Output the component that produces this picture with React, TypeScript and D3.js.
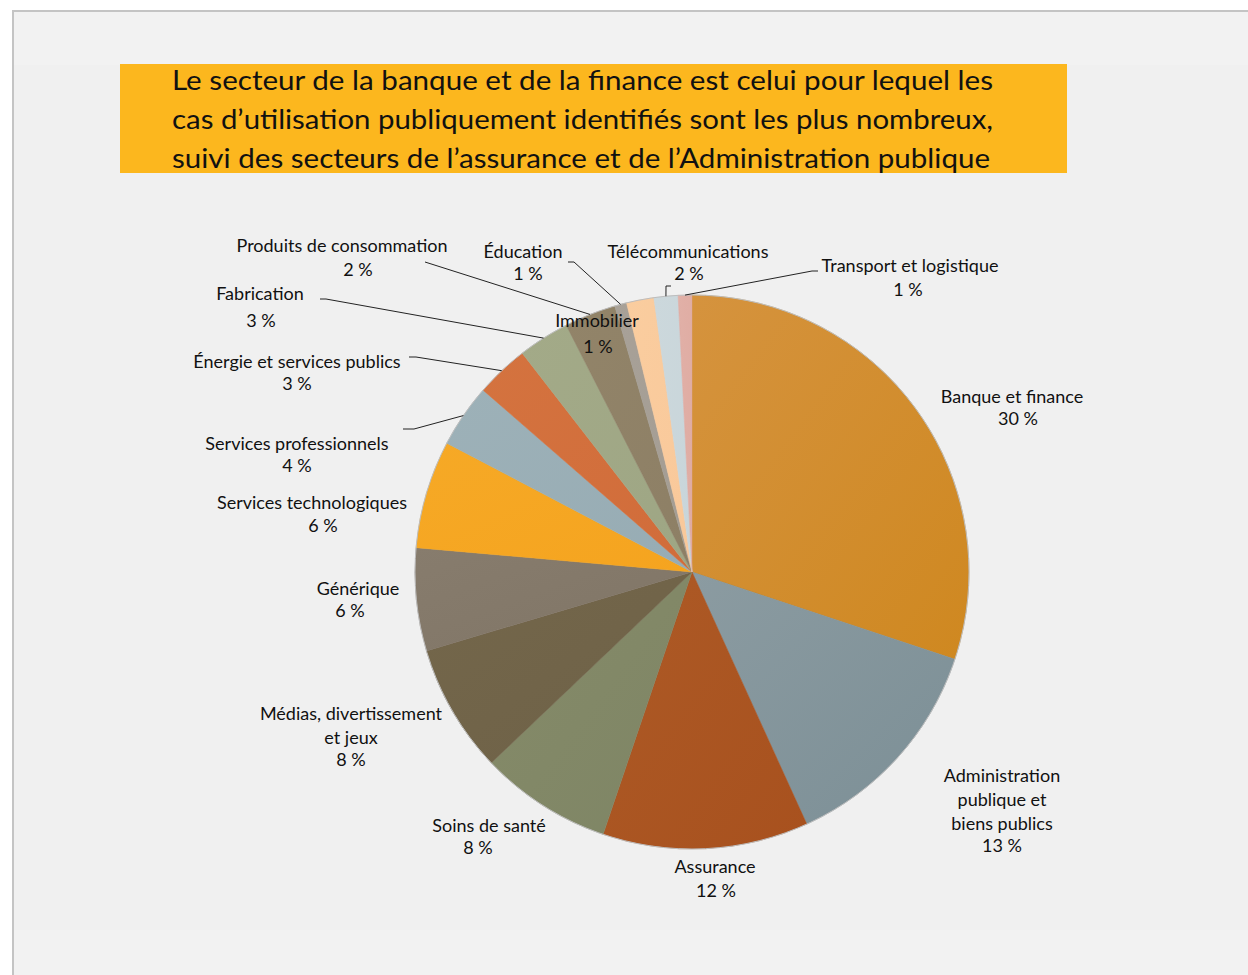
import React from "react";
import * as d3 from "d3";

// ---- Data ----
const categories = [
  "Banque et finance",
  "Administration publique et biens publics",
  "Assurance",
  "Soins de santé",
  "Médias, divertissement et jeux",
  "Générique",
  "Services technologiques",
  "Services professionnels",
  "Énergie et services publics",
  "Fabrication",
  "Produits de consommation",
  "Éducation",
  "Immobilier",
  "Télécommunications",
  "Transport et logistique",
];
const values = [30.1, 13.1, 12.0, 7.7, 7.5, 6.0, 6.3, 3.7, 3.1, 3.0, 3.0, 0.7, 1.6, 1.4, 0.8];
const percentLabels = ["30 %", "13 %", "12 %", "8 %", "8 %", "6 %", "6 %", "4 %", "3 %", "3 %", "2 %", "1 %", "1 %", "2 %", "1 %"];
const labelLines = [
  ["Banque et finance"],
  ["Administration", "publique et", "biens publics"],
  ["Assurance"],
  ["Soins de santé"],
  ["Médias, divertissement", "et jeux"],
  ["Générique"],
  ["Services technologiques"],
  ["Services professionnels"],
  ["Énergie et services publics"],
  ["Fabrication"],
  ["Produits de consommation"],
  ["Éducation"],
  ["Immobilier"],
  ["Télécommunications"],
  ["Transport et logistique"],
];
const titleLines = [
  "Le secteur de la banque et de la finance est celui pour lequel les",
  "cas d\u2019utilisation publiquement identifiés sont les plus nombreux,",
  "suivi des secteurs de l\u2019assurance et de l\u2019Administration publique",
];

// ---- Styles / layout ----
const colors = [
  "#cf8820", "#7c8f96", "#a8511e", "#7e8565", "#6e6147", "#807566", "#f5a41f",
  "#97acb4", "#d16c3a", "#9ea684", "#8d7f65", "#a39c92", "#f9c89a", "#c8d5da", "#dfaba2",
];
const colorsLight = [
  "#d5933e", "#8b9ba1", "#ad5a26", "#868b69", "#74674b", "#877c6d", "#f6a926",
  "#9db1b8", "#d4733f", "#a3aa88", "#928469", "#a8a198", "#facd9f", "#ccd8dc", "#e1b0a7",
];
const W = 1248, H = 975;
const cx = 692, cy = 572, R = 277;
const FONT = "Lato, 'Open Sans', sans-serif";

// label placement: [name cx, first baseline, line step, pct cx, pct baseline]
const labelLayout: [number, number, number, number, number][] = [
  [1012, 403, 24, 1018, 425],
  [1002, 782, 24, 1002, 852],
  [715, 873, 24, 716, 897],
  [489, 832, 24, 478, 854],
  [351, 720, 24, 351, 766],
  [358, 595, 24, 350, 617],
  [312, 509, 24, 323, 532],
  [297, 450, 24, 297, 472],
  [297, 368, 24, 297, 390],
  [260, 300, 24, 261, 327],
  [342, 252, 24, 358, 276],
  [523, 258, 24, 528, 280],
  [597, 327, 24, 598, 353],
  [688, 258, 24, 689, 280],
  [910, 272, 24, 908, 296],
];
// leader line label-side points (slice side computed from the arc)
const leaderStarts: Record<number, [number, number][]> = {
  10: [[425, 262]],
  11: [[568, 262], [574, 262]],
  13: [[671, 286], [666, 286]],
  14: [[818, 271], [812, 271]],
  9: [[320, 299], [326, 299]],
  8: [[409, 357], [416, 357]],
  7: [[403, 429], [414, 429]],
};

export default function App() {
  const pie = d3.pie<number>().sort(null).value((d) => d).startAngle(0).endAngle(2 * Math.PI);
  const arcs = pie(values);
  const arc = d3.arc<d3.PieArcDatum<number>>().innerRadius(0).outerRadius(R);

  const edgePoint = (a: d3.PieArcDatum<number>): [number, number] => {
    const m = (a.startAngle + a.endAngle) / 2;
    return [cx + R * Math.sin(m), cy - R * Math.cos(m)];
  };

  return (
    <svg width={W} height={H} style={{ position: "absolute", left: 0, top: 0, display: "block" }}>
      <defs>
        {arcs.map((a, i) => (
          <linearGradient key={i} id={`g${i}`} x1="0" y1="0" x2="1" y2="1">
            <stop offset="0" stopColor={colorsLight[i]} />
            <stop offset="1" stopColor={colors[i]} />
          </linearGradient>
        ))}
      </defs>
      <rect x={0} y={0} width={W} height={H} fill="#ffffff" />
      <rect x={13} y={11} width={W} height={H} fill="#f2f2f2" stroke="#c4c4c4" strokeWidth={2} />
      <rect x={14} y={65} width={W} height={865} fill="#f0f0f0" />

      {/* Title */}
      <rect x={120} y={64} width={947} height={109} fill="#fcb71e" />
      {titleLines.map((t, i) => (
        <text
          key={i}
          x={172}
          y={90 + i * 39}
          fontFamily={FONT}
          fontSize={27}
          fill="#111"
          textLength={i === 2 ? 818 : 821}
          lengthAdjust="spacingAndGlyphs"
        >
          {t}
        </text>
      ))}

      {/* Pie */}
      <g transform={`translate(${cx},${cy})`}>
        {arcs.map((a, i) => (
          <path key={i} d={arc(a) || ""} fill={`url(#g${i})`} stroke={colors[i]} strokeWidth={0.5} />
        ))}
        <circle r={R} fill="none" stroke="#bdbdbd" strokeWidth={1} />
      </g>

      {/* Leader lines */}
      {Object.keys(leaderStarts).map((k) => {
        const i = +k;
        const pts = [...leaderStarts[i], edgePoint(arcs[i])];
        return (
          <polyline
            key={k}
            points={pts.map((p) => p.join(",")).join(" ")}
            fill="none"
            stroke="#222"
            strokeWidth={1}
          />
        );
      })}

      {/* Labels */}
      {categories.map((c, i) => {
        const [nx, ny, step, px, py] = labelLayout[i];
        return (
          <g key={c} fontFamily={FONT} fontSize={18} fill="#111" textAnchor="middle">
            {labelLines[i].map((l, j) => (
              <text key={j} x={nx} y={ny + j * step}>
                {l}
              </text>
            ))}
            <text x={px} y={py}>
              {percentLabels[i]}
            </text>
          </g>
        );
      })}
    </svg>
  );
}
